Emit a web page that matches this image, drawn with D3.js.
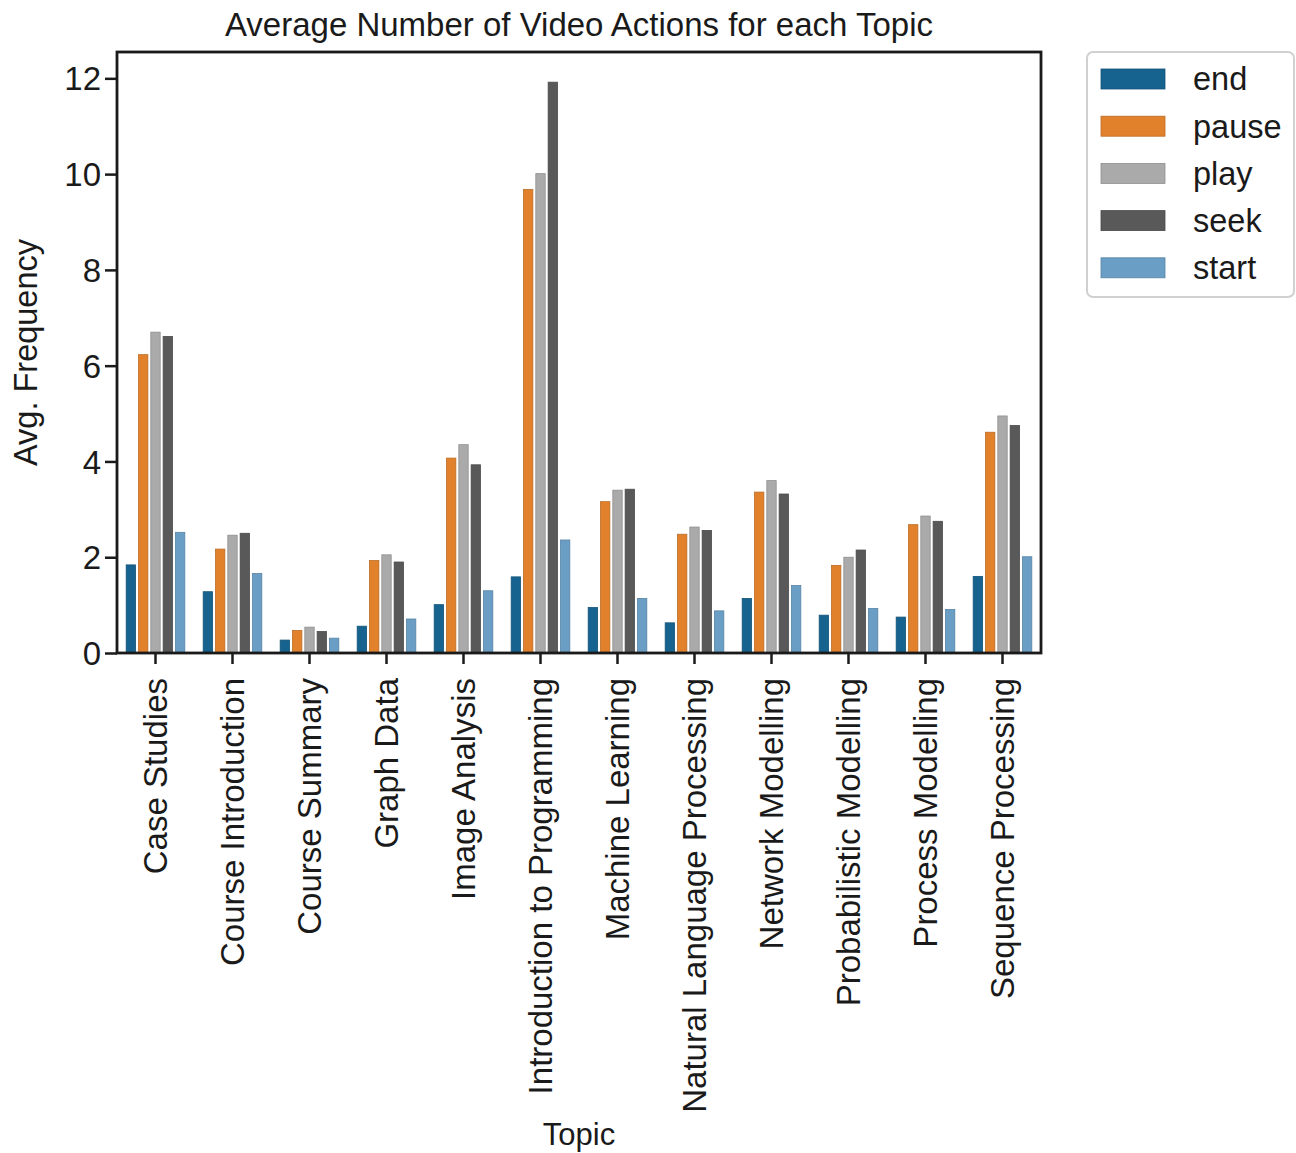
<!DOCTYPE html>
<html><head><meta charset="utf-8">
<script src="https://cdn.jsdelivr.net/npm/d3@7"></script>
<style>body{margin:0;background:#fff;} text{font-family:"Liberation Sans",Arial,sans-serif;fill:#1a1a1a;}</style>
</head><body>
<svg id="chart" width="1296" height="1153"></svg>
<script>
const topics = ["Case Studies","Course Introduction","Course Summary","Graph Data","Image Analysis","Introduction to Programming","Machine Learning","Natural Language Processing","Network Modelling","Probabilistic Modelling","Process Modelling","Sequence Processing"];
const actions = ["end","pause","play","seek","start"];
const endVals   = [1.84,1.28,0.27,0.56,1.01,1.59,0.95,0.63,1.14,0.79,0.75,1.60];
const pauseVals = [6.23,2.17,0.47,1.93,4.07,9.68,3.16,2.48,3.36,1.83,2.68,4.61];
const playVals  = [6.70,2.46,0.54,2.05,4.35,10.01,3.40,2.63,3.60,2.00,2.86,4.95];
const seekVals  = [6.61,2.50,0.45,1.90,3.93,11.92,3.42,2.56,3.32,2.15,2.75,4.75];
const startVals = [2.52,1.66,0.31,0.71,1.30,2.36,1.14,0.88,1.41,0.93,0.91,2.01];
const yTicks = [0,2,4,6,8,10,12];
const colors = ["#17638f","#e1812c","#aaaaaa","#595959","#6a9ec5"];
const seriesVals = [endVals,pauseVals,playVals,seekVals,startVals];

const svg = d3.select("#chart");
const L=117, R=1041, T=52, B=653;
const x = d3.scaleBand().domain(topics).range([L,R]).paddingInner(0.2).paddingOuter(0.1);
const xs = d3.scaleBand().domain(actions).range([0, x.bandwidth()]);
const y = d3.scaleLinear().domain([0, 12.55]).range([B, T]);

// bars
actions.forEach((a,si)=>{
  const g = svg.append("g");
  g.selectAll("rect").data(topics).join("rect")
    .attr("x", t => x(t) + xs(a) + xs.bandwidth()*0.12)
    .attr("width", xs.bandwidth()*0.76)
    .attr("y", (t,i)=> y(seriesVals[si][i]))
    .attr("height", (t,i)=> B - y(seriesVals[si][i]))
    .attr("fill", colors[si])
    .attr("stroke", d3.color(colors[si]).darker(0.5))
    .attr("stroke-width", 0.8);
});

// axes
const yAxis = d3.axisLeft(y).tickValues(yTicks).tickSize(12).tickPadding(4);
const gy = svg.append("g").attr("transform",`translate(${L},0)`).call(yAxis);
gy.select(".domain").remove();
gy.selectAll("line").attr("stroke","#1a1a1a").attr("stroke-width",2.5);
gy.selectAll("text").style("font-size","33px").attr("dy","0.35em");

const xAxis = d3.axisBottom(x).tickSize(11).tickPadding(8);
const gx = svg.append("g").attr("transform",`translate(0,${B})`).call(xAxis);
gx.select(".domain").remove();
gx.selectAll("line").attr("stroke","#1a1a1a").attr("stroke-width",2.5);
gx.selectAll("text").style("font-size","33px")
  .attr("transform","rotate(-90)").attr("text-anchor","end")
  .attr("x",-25).attr("y",0).attr("dy","0.35em");

// frame
svg.append("rect").attr("x",L).attr("y",T).attr("width",R-L).attr("height",B-T)
  .attr("fill","none").attr("stroke","#1a1a1a").attr("stroke-width",2.8);

// title & labels
svg.append("text").attr("x",(L+R)/2).attr("y",36).attr("text-anchor","middle")
  .style("font-size","33px").text("Average Number of Video Actions for each Topic");
svg.append("text").attr("x",(L+R)/2).attr("y",1145).attr("text-anchor","middle")
  .style("font-size","31px").text("Topic");
svg.append("text").attr("transform",`translate(37,${(T+B)/2}) rotate(-90)`).attr("text-anchor","middle")
  .style("font-size","32.5px").text("Avg. Frequency");

// legend
const lg = svg.append("g");
lg.append("rect").attr("x",1087).attr("y",52).attr("width",207).attr("height",245).attr("rx",6)
  .attr("fill","#fff").attr("stroke","#d0d0d0").attr("stroke-width",2);
actions.forEach((a,i)=>{
  const cy = 79 + i*47.2;
  lg.append("rect").attr("x",1101).attr("y",cy-10).attr("width",64).attr("height",20)
    .attr("fill",colors[i]).attr("stroke",d3.color(colors[i]).darker(0.5)).attr("stroke-width",0.8);
  lg.append("text").attr("x",1193).attr("y",cy).attr("dy","0.35em").style("font-size","32.5px").text(a);
});
</script>
</body></html>
